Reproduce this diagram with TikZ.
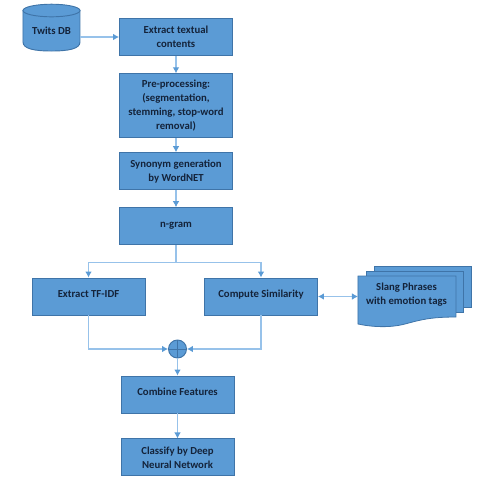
\documentclass[tikz,border=0pt]{standalone}
\usepackage{fontspec}
\setmainfont{Carlito}
\usepackage{xcolor}
\usetikzlibrary{positioning,arrows.meta,backgrounds,calc}
\definecolor{boxfill}{HTML}{5B9BD5}
\definecolor{boxedge}{HTML}{3F74A8}
\definecolor{linkline}{HTML}{97C2EA}
\definecolor{labelink}{HTML}{14233A}
\tikzset{
  box/.style={rectangle,draw=boxedge,fill=boxfill,align=center,inner sep=1pt,line width=0.7pt,
    minimum width=84.75pt,minimum height=27.75pt,text=labelink,font=\fontsize{8.05}{10.6}\selectfont\bfseries},
  oneline/.style={box,text height=5.5pt,text depth=4.5pt},
  fl/.style={-{Latex[length=4.5pt,width=5pt,color=boxfill]},draw=linkline,line width=0.8pt},
  dbl/.style={{Latex[length=4.5pt,width=5pt,color=boxfill]}-{Latex[length=4.5pt,width=5pt,color=boxfill]},draw=linkline,line width=0.8pt},
  sheet/.style={draw=boxedge,fill=boxfill,line width=0.6pt},
}
\begin{document}
\begin{tikzpicture}[x=0.75pt,y=-0.75pt]
  \useasboundingbox (0,0) rectangle (479,480);
  \node[box,at={(176,37)}] (extract) {Extract textual\\contents};
  \node[box,below=13pt of extract,minimum height=48pt] (prep) {Pre-processing:\\(segmentation,\\stemming, stop-word\\removal)};
  \node[box,below=10.5pt of prep] (syn) {Synonym generation\\by WordNET};
  \node[box,below=12.75pt of syn] (ngram) {n-gram};
  \node[oneline,at={(88.5,296.5)}] (tfidf) {Extract TF-IDF};
  \node[oneline,at={(261,296.5)}] (sim) {Compute Similarity};
  \node[circle,draw=boxedge,fill=boxfill,line width=0.7pt,minimum size=13.5pt,inner sep=0pt,at={(177.5,349)}] (sum) {};
  \draw[boxedge,line width=0.5pt] (sum.north)--(sum.south) (sum.west)--(sum.east);
  \node[oneline,at={(177.5,394.5)}] (combine) {Combine Features};
  \node[box,below=18.75pt of combine] (classify) {Classify by Deep\\Neural Network};
  \node[text=labelink,font=\fontsize{8.05}{10}\selectfont\bfseries,at={(51.5,31)}] (twits) {Twits DB};
  % database and stacked sheets
  \begin{scope}[on background layer]
  \draw[sheet,line width=0.7pt] (23,10.5)--(23,42) .. controls (23,49) and (35,51) .. (51.5,51) .. controls (68,51) and (80,49) .. (80,42)--(80,10.5)--cycle;
  \draw[sheet,line width=0.7pt] (51.5,10.5) ellipse [x radius=28.5,y radius=6.3];
  \draw[sheet] (374,266)--(471,266)--(471,307)--(374,307)--cycle;
  \draw[sheet] (366,271)--(463,271)--(463,312)--(366,312)--cycle;
  \draw[sheet] (358,276)--(456,276)--(456,317) .. controls (430,317) and (420,320) .. (405,324) .. controls (390,328) and (372,327) .. (358,324)--cycle;
  \end{scope}
  \node[text=labelink,align=center,font=\fontsize{8.05}{10.6}\selectfont\bfseries,at={(406.5,295)}] (slang) {Slang Phrases\\with emotion tags};
  \coordinate (slangin) at (358,296.5);
  \coordinate (twitsout) at (80,37);
  \coordinate (split) at ($(ngram.south)+(0,17)$);
  \draw[fl] (twitsout)--(extract.west|-twitsout);
  \draw[fl] (extract)--(prep); \draw[fl] (prep)--(syn); \draw[fl] (syn)--(ngram);
  \draw[draw=linkline,line width=0.8pt] (ngram.south)--(split);
  \draw[fl] (split)-|(tfidf.north); \draw[fl] (split)-|(sim.north);
  \draw[fl] (tfidf.south)|-(sum.west); \draw[fl] (sim.south)|-(sum.east);
  \draw[fl] (sum)--(combine); \draw[fl] (combine)--(classify);
  \draw[dbl] (sim.east)--(slangin);
\end{tikzpicture}
\end{document}
